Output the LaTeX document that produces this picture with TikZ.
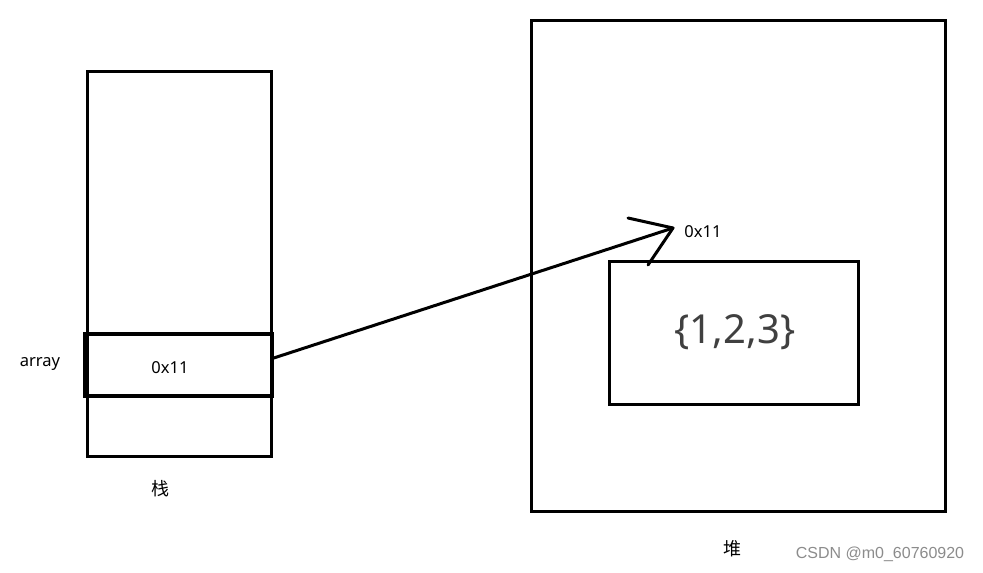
\documentclass[tikz,border=0pt]{standalone}
\usepackage{fontspec}
\setmainfont{Noto Sans}
\newfontfamily\cjk{Noto Sans CJK SC}
\newfontfamily\arialish{Liberation Sans}
\begin{document}
\begin{tikzpicture}[x=1pt,y=-1pt,
  box/.style={draw=black,line width=3pt,inner sep=0pt},
  lbl/.style={font=\fontsize{16.5}{18}\selectfont,inner sep=0pt},
  cn/.style={font=\cjk\fontsize{18}{20}\selectfont,inner sep=0pt}]
\useasboundingbox[fill=white] (0,0) rectangle (983,573);
% stack
\node[box,minimum width=184pt,minimum height=385pt] (stack) at (179,263.5) {};
\node[box,line width=3.5pt,minimum width=187pt,minimum height=62pt] (cell) at (178.5,365) {};
\node[lbl] (c0) at (170,368) {0x11};
\node[lbl] (arr) at (40,364) {array};
\node[cn] (zhan) at (160,489) {栈};
% heap
\node[box,minimum width=414pt,minimum height=491pt] (heap) at (738,265.5) {};
\node[box,minimum width=249pt,minimum height=143pt] (obj) at (733.5,332.5) {};
\node[inner sep=0pt,text=black!75,font=\fontsize{40}{44}\selectfont] (val) at (735,332) {\{1,2,3\}};
\node[lbl] (h0) at (703,232) {0x11};
\node[cn] (dui) at (732,549) {堆};
\node[inner sep=0pt,text=black!45,font=\arialish\fontsize{16}{18}\selectfont] (csdn) at (880,554) {CSDN @m0\_60760920};
% arrow
\coordinate (tip) at (673,228);
\coordinate (w1) at (628,218);
\coordinate (w2) at (648,265);
\draw[line width=3pt,line cap=round] (cell.east |- 0,358) -- (tip);
\draw[line width=3pt,line cap=round,line join=round] (w1) -- (tip) -- (w2);
\end{tikzpicture}
\end{document}
